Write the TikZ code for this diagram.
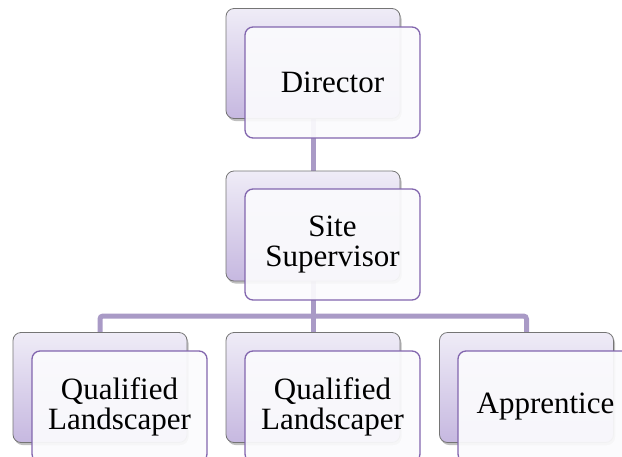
\documentclass[tikz,border=0pt]{standalone}
\usepackage{fontspec}
\setmainfont{Liberation Serif}
\usetikzlibrary{shadows}
\pgfdeclarelayer{background}
\pgfsetlayers{background,main}
\definecolor{conn}{HTML}{A99AC6}
\definecolor{backtop}{HTML}{EFECF7}
\definecolor{backbot}{HTML}{C6B8E0}
\definecolor{backedge}{HTML}{757575}
\definecolor{frontedge}{HTML}{8266AE}
\definecolor{frontfill}{HTML}{FBFBFD}
\tikzset{
  backbox/.style={rectangle, rounded corners=8pt, minimum width=174pt, minimum height=110pt,
    top color=backtop, bottom color=backbot, draw=backedge, line width=0.8pt,
    drop shadow={shadow xshift=1.5pt, shadow yshift=-2.5pt, opacity=0.25, fill=black}},
  frontbox/.style={rectangle, rounded corners=8pt, minimum width=175pt, minimum height=111pt,
    fill=frontfill, fill opacity=0.93, text opacity=1, draw=frontedge, line width=1.3pt,
    align=center, font=\fontsize{31}{30}\selectfont, inner sep=0pt},
  connector/.style={draw=conn, line width=5pt, rounded corners=3pt}
}
\begin{document}
\begin{tikzpicture}[x=1pt,y=-1pt]
\useasboundingbox (0,0) rectangle (622,456);
% back boxes
\node[backbox] (dirB)  at (313,63.5) {};
\node[backbox] (siteB) at (313,226) {};
\node[backbox] (q1B)   at (100,387.5) {};
\node[backbox] (q2B)   at (313,387.5) {};
\node[backbox] (appB)  at (526.5,387.5) {};
% connectors, behind the boxes
\coordinate (bus) at (313,316);
\begin{pgfonlayer}{background}
\draw[connector] (dirB.south) -- (siteB.north);
\draw[connector] (siteB.south) -- (bus);
\draw[connector] (q1B.north) |- (bus) -| (appB.north);
\draw[connector] (bus) -- (q2B.north);
\end{pgfonlayer}
% front boxes
\node[frontbox] (dir)  at (332.5,82.5) {Director};
\node[frontbox] (site) at (332.5,244.5) {Site\\Supervisor};
\node[frontbox] (q1)   at (119.5,406.5) {Qualified\\Landscaper};
\node[frontbox] (q2)   at (332.5,406.5) {Qualified\\Landscaper};
\node[frontbox] (app)  at (545.5,406.5) {Apprentice};
\end{tikzpicture}
\end{document}
